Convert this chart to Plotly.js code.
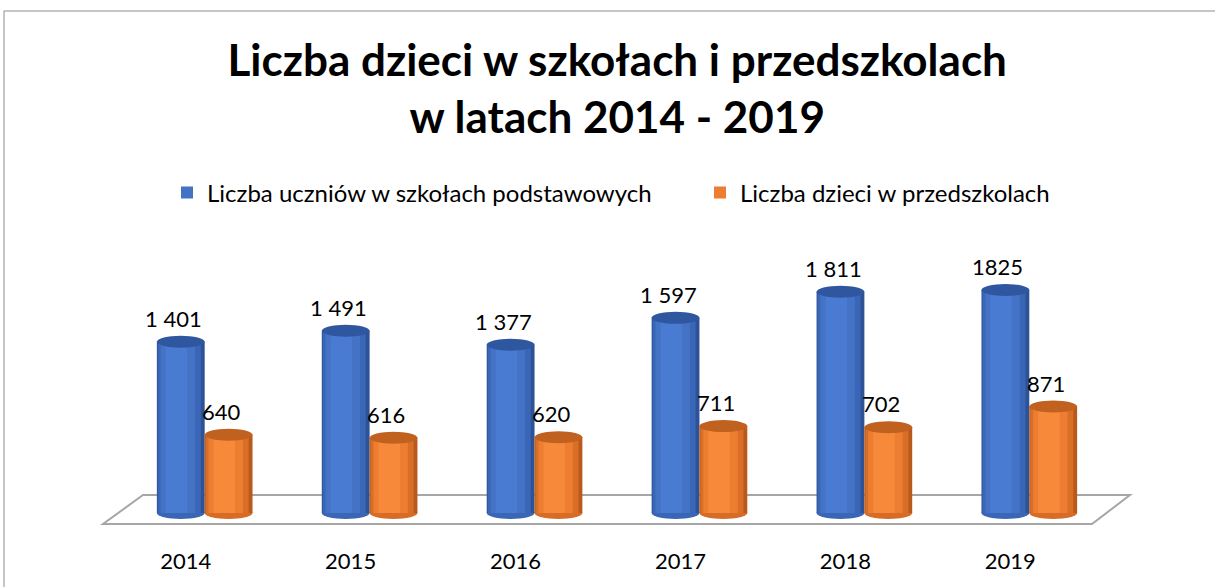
<!DOCTYPE html>
<html>
<head>
<meta charset="utf-8">
<script src="https://cdn.plot.ly/plotly-3.0.1.min.js"></script>
<style>html,body{margin:0;padding:0;background:#fff;}#chart{width:1215px;height:587px;}</style>
</head>
<body>
<div id="chart"></div>
<script>
// ---- data ----
const years = ["2014", "2015", "2016", "2017", "2018", "2019"];
const pupils = [1401, 1491, 1377, 1597, 1811, 1825];
const pupilsLabels = ["1 401", "1 491", "1 377", "1 597", "1 811", "1825"];
const preschool = [640, 616, 620, 711, 702, 871];
const preschoolLabels = ["640", "616", "620", "711", "702", "871"];
const seriesNames = ["Liczba uczniów w szkołach podstawowych", "Liczba dzieci w przedszkolach"];

// ---- layout geometry ----
const W = 1215, H = 587;
const mL = 81, mR = 62, mT = 240, mB = 65;
const plotW = W - mL - mR, plotH = H - mT - mB;
const zeroPx = 513, pxPerUnit = 0.1222;
const plotBottomPx = H - mB;
const yRange = [-(plotBottomPx - zeroPx) / pxPerUnit, (zeroPx - mT) / pxPerUnit];
const xRange = [-0.75, 5.75];
const barW = 0.29;
const idx = years.map((_, i) => i);

function px2paperX(px) { return (px - mL) / plotW; }
function px2paperY(py) { return (H - mB - py) / plotH; }

const FONT = "Lato, Carlito, Calibri, 'Open Sans', sans-serif";

// cylinder shading layers: [widthFactor, offsetFactor, color]
const blueLayers = [[1.0, 0, "#2d5296"], [0.9, -0.03, "#3966b7"], [0.72, -0.06, "#4472C4"], [0.45, -0.09, "#4a7bd3"]];
const orangeLayers = [[1.0, 0, "#b9591b"], [0.9, -0.03, "#d96e27"], [0.72, -0.06, "#ED7D31"], [0.45, -0.09, "#f78a3a"]];

const traces = [];
function addSeries(values, offset, layers, name, legendRank, legendWidth) {
  layers.forEach((L, k) => {
    const t = {
      type: "bar",
      x: idx.map(i => i + offset + L[1] * barW),
      y: values,
      width: barW * L[0],
      marker: { color: L[2], line: { width: 0 } },
      name: name,
      showlegend: k === 2,
      legendrank: legendRank,
      hoverinfo: "skip"
    };
    if (k === 2 && legendWidth) t.legendwidth = legendWidth;
    traces.push(t);
  });
}
addSeries(pupils, -barW / 2, blueLayers, seriesNames[0], 1, 488);
addSeries(preschool, barW / 2, orangeLayers, seriesNames[1], 2, 0);

// shapes
const shapes = [];
// outer border (only top and left edges fall inside the picture)
shapes.push({ type: "rect", xref: "paper", yref: "paper",
  x0: px2paperX(4), x1: px2paperX(1400), y0: px2paperY(11), y1: px2paperY(800),
  line: { color: "#8c8c8c", width: 1 }, fillcolor: "rgba(0,0,0,0)", layer: "below" });
// floor
const fl = [[103, 524], [1092, 524], [1130, 495], [143, 495]];
shapes.push({ type: "path", xref: "paper", yref: "paper", layer: "below",
  path: "M" + fl.map(p => px2paperX(p[0]) + "," + px2paperY(p[1])).join(" L") + " Z",
  line: { color: "#a6a6a6", width: 2 }, fillcolor: "#ffffff" });
// bottom & top ellipses
function ellipses(values, offset, baseColor, topColor) {
  values.forEach((v, i) => {
    const c = i + offset;
    shapes.push({ type: "circle", xref: "x", yref: "y", ysizemode: "pixel", yanchor: 0,
      x0: c - barW / 2, x1: c + barW / 2, y0: -6, y1: 6, layer: "below",
      fillcolor: baseColor, line: { width: 0 } });
    shapes.push({ type: "circle", xref: "x", yref: "y", ysizemode: "pixel", yanchor: v,
      x0: c - barW / 2, x1: c + barW / 2, y0: -6, y1: 6, layer: "above",
      fillcolor: topColor, line: { width: 0 } });
  });
}
ellipses(pupils, -barW / 2, "#3a66b6", "#2f57a0");
ellipses(preschool, barW / 2, "#d66c26", "#c0611f");

// value labels
const annotations = [];
function labels(values, texts, offset) {
  values.forEach((v, i) => {
    annotations.push({ x: i + offset - 0.045, y: v, xref: "x", yref: "y", text: texts[i],
      showarrow: false, yanchor: "bottom", yshift: 8,
      font: { family: FONT, size: 22, color: "#000" } });
  });
}
labels(pupils, pupilsLabels, -barW / 2);
labels(preschool, preschoolLabels, barW / 2);

const layout = {
  width: W, height: H,
  margin: { l: mL, r: mR, t: mT, b: mB },
  paper_bgcolor: "#ffffff", plot_bgcolor: "rgba(0,0,0,0)",
  barmode: "overlay",
  font: { family: FONT, size: 22, color: "#000" },
  title: { text: "Liczba dzieci w szkołach i przedszkolach<br>w latach 2014 - 2019",
    font: { family: FONT, size: 44, weight: "bold", color: "#000" },
    x: 0.508, xanchor: "center", y: 1 - 76 / H, yanchor: "top", yref: "container" },
  legend: { orientation: "h", x: px2paperX(167), xanchor: "left", y: px2paperY(193), yanchor: "middle",
    font: { family: FONT, size: 24, color: "#000" }, traceorder: "normal" },
  xaxis: { range: xRange, tickmode: "array", tickvals: idx, ticktext: years,
    showgrid: false, zeroline: false, showline: false, ticks: "",
    ticklabelshift: -19, ticklabelstandoff: 24,
    tickfont: { family: FONT, size: 22, color: "#000" }, fixedrange: true },
  yaxis: { range: yRange, visible: false, showgrid: false, zeroline: false, fixedrange: true },
  shapes: shapes,
  annotations: annotations,
  showlegend: true
};

Plotly.newPlot("chart", traces, layout, { displayModeBar: false, staticPlot: true });
</script>
</body>
</html>
